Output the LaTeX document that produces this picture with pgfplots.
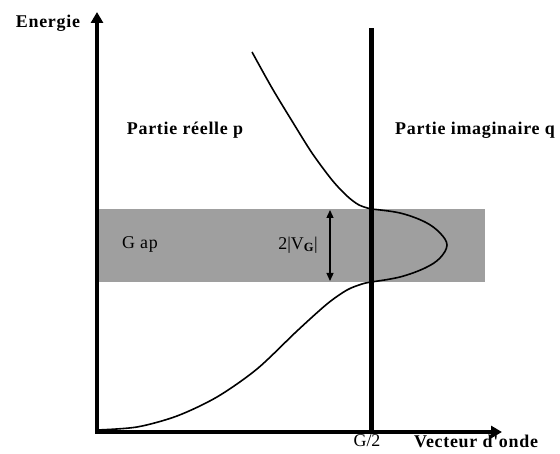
\documentclass[border=0pt]{standalone}
\usepackage{fontspec}
\setmainfont{Liberation Serif}
\usepackage{pgfplots}
\pgfplotsset{compat=1.18}
\usetikzlibrary{arrows.meta}
\newfontfamily\spaced[LetterSpace=4]{Liberation Serif}
\begin{document}
\begin{tikzpicture}
\begin{axis}[
  x=1bp, y=1bp,
  xmin=0, xmax=405, ymin=0, ymax=420,
  axis lines=none,
  clip=false,
]
% invisible bounding box matching 560x454
\addplot[draw=none, forget plot] coordinates {(-97,-22) (463,432)};
% gap band
\addplot[fill=gray!75!black!60, draw=none, fill opacity=1, forget plot] coordinates {(0,150) (388,150) (388,223) (0,223)} -- cycle;
% lower band curve
\addplot[black, line width=1.6bp, smooth, tension=0.5] coordinates {
(0,2) (40,5) (80,16) (120,35) (160,63) (200,101) (230,128) (250,142) (265,148) (274,150)};
% upper band curve
\addplot[black, line width=1.6bp, smooth, tension=0.5] coordinates {
(155,380) (175,344) (195,311) (215,279) (235,252) (250,236) (262,227) (274,223)};
% imaginary part
\addplot[black, line width=1.6bp, smooth, tension=0.6] coordinates {
(274,223) (303,219) (328,210) (343,199) (350,187) (343,174) (328,164) (303,155) (274,150)};
% vertical line at G/2
\addplot[black, line width=5bp] coordinates {(274,0) (274,404)};
% axes
\addplot[black, line width=4bp, -{Triangle[length=11bp,width=12bp]}] coordinates {(0,-1.5) (0,420)};
\addplot[black, line width=4bp, -{Triangle[length=11bp,width=12bp]}] coordinates {(-2,0) (405,0)};
% 2|V_G| arrow
\addplot[black, line width=1.3bp, {Triangle[length=8bp,width=7bp]}-{Triangle[length=8bp,width=7bp]}] coordinates {(233,151) (233,222)};
% labels
\node[font=\spaced\bfseries\fontsize{18}{20}\selectfont] at (axis cs:-49,409) {Energie};
\node[font=\spaced\bfseries\fontsize{18}{20}\selectfont] at (axis cs:88,302) {Partie réelle p};
\node[font=\spaced\bfseries\fontsize{18}{20}\selectfont] at (axis cs:378,302) {Partie imaginaire q};
\node[font=\spaced\fontsize{18}{20}\selectfont] at (axis cs:43,188) {G ap};
\node[font=\fontsize{18}{20}\selectfont] at (axis cs:201,187) {2|V\textsubscript{\textbf{G}}|};
\node[font=\fontsize{18}{20}\selectfont] at (axis cs:270,-9) {G/2};
\node[font=\spaced\bfseries\fontsize{18}{20}\selectfont] at (axis cs:379,-9) {Vecteur d'onde};
\end{axis}
\end{tikzpicture}
\end{document}
